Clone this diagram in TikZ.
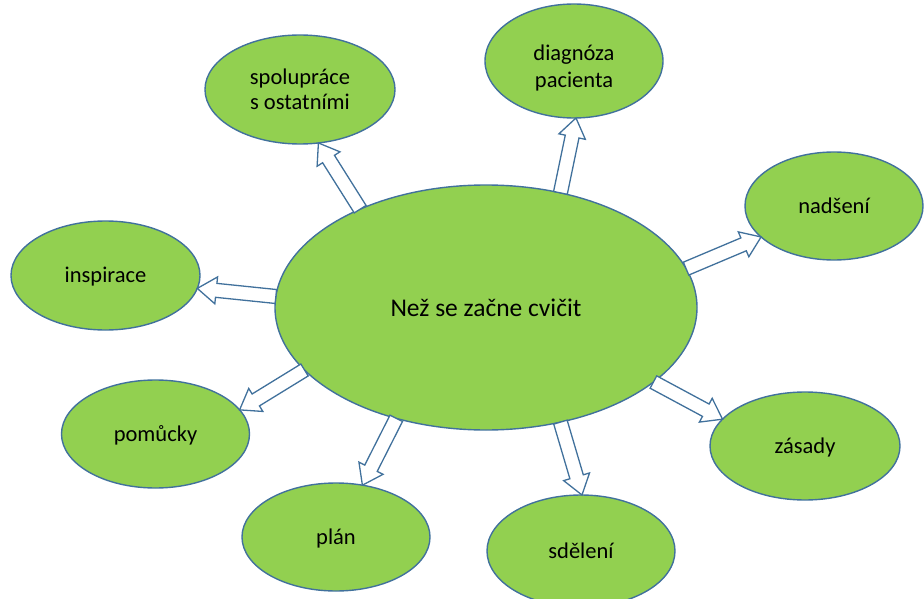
\documentclass[tikz,border=0pt]{standalone}
\usepackage{fontspec}
\setmainfont{Carlito}
\usetikzlibrary{shapes.geometric,calc}
\definecolor{leaf}{HTML}{92D050}
\definecolor{rim}{HTML}{41719C}
\tikzset{
  bubble/.style={ellipse, draw=rim, line width=1.4pt, fill=leaf,
    minimum width=188pt, minimum height=109pt, inner sep=0pt, outer sep=0pt,
    font=\fontsize{22.5}{25}\selectfont, align=center, text=black},
  oneline/.style={bubble, text height=14pt, text depth=0pt},
  hub/.style={bubble, minimum width=422pt, minimum height=245pt,
    font=\fontsize{25.5}{28}\selectfont},
  barrow/.style={draw=rim, fill=white, line width=1.3pt, line join=miter}
}
% hollow block arrow from #1 (tail) to #2 (tip)
\newcommand\blockarrow[2]{%
  \draw[barrow] let \p3=($(#2)!19pt!(#1)$) in
    ($(#1)!7pt!90:(#2)$) -- ($(\p3)!7pt!90:(#2)$) -- ($(\p3)!13.5pt!90:(#2)$)
    -- (#2) -- ($(\p3)!13.5pt!-90:(#2)$) -- ($(\p3)!7pt!-90:(#2)$)
    -- ($(#1)!7pt!-90:(#2)$) -- cycle;}
\begin{document}
\begin{tikzpicture}[x=1pt,y=-1pt]
  \useasboundingbox (0,0) rectangle (924,599);
  \node[hub] (c) at (486,307.5) {Než se začne cvičit};
  \node[bubble, minimum width=190pt] (s) at (300,89.5) {spolupráce\\s ostatními};
  \node[bubble, minimum width=178pt, minimum height=114pt,
        text height=54pt, text depth=0pt] (d) at (574,61) {diagnóza\\[2pt]pacienta};
  \node[oneline, minimum width=178pt, minimum height=108pt] (n) at (834,206) {nadšení};
  \node[oneline, minimum width=189pt] (i) at (105.5,275.5) {inspirace};
  \node[oneline, minimum height=108pt] (p) at (155.5,434) {pomůcky};
  \node[oneline, minimum height=108pt] (l) at (336,537) {plán};
  \node[oneline, minimum height=112pt] (e) at (581,551) {sdělení};
  \node[oneline, minimum width=190pt, minimum height=108pt] (z) at (805,446) {zásady};

  \blockarrow{c.142.4}{s.289.6}
  \blockarrow{c.57.7}{d.272.9}
  \blockarrow{c.11}{n.203.1}
  \blockarrow{c.177.4}{i.352.3}
  \blockarrow{c.199.3}{p.16.4}
  \blockarrow{c.231.1}{l.63.4}
  \blockarrow{c.303}{e.89}
  \blockarrow{c.336.9}{z.162}
\end{tikzpicture}
\end{document}
